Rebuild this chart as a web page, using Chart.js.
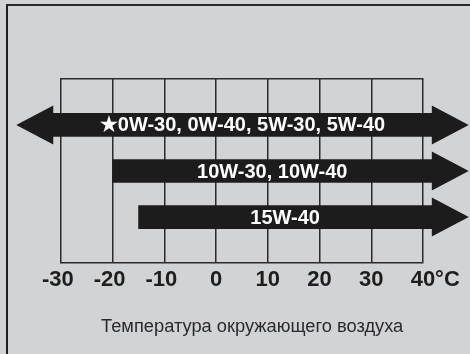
<!DOCTYPE html>
<html>
<head>
<meta charset="utf-8">
<script src="https://cdn.jsdelivr.net/npm/chart.js@4.4.0/dist/chart.umd.min.js"></script>
<style>
  html, body { margin: 0; padding: 0; background: #d2d3d5; }
  #wrap { position: relative; width: 470px; height: 354px; overflow: hidden; }
  #frame { position: absolute; left: 6px; top: 4px; right: -4px; bottom: -4px;
           border-left: 2px solid #1f1f1f; border-top: 2px solid #2a2a2a; }
  #ctx { position: absolute; left: 0; top: 0; }
</style>
</head>
<body>
<div id="wrap">
  <div id="frame"></div>
  <canvas id="ctx" width="470" height="354"></canvas>
</div>
<script>
// Oil grades and the temperature range (°C) each one covers
const grades = ['★0W-30, 0W-40, 5W-30, 5W-40', '10W-30, 10W-40', '15W-40'];
const lowTemp = [-31.5, -20, -15];
const highTemp = [41.7, 41.7, 41.7];
// which ends continue past the scale (drawn as arrow heads)
const openLeft = [true, false, false];
const openRight = [true, true, true];
const tempTicks = [-30, -20, -10, 0, 10, 20, 30, 40];

const ink = '#1c1c1c';
const gridInk = '#2b2b2b';

// arrow heads on the open ends + grade text on the bars
const arrowHeads = {
  id: 'arrowHeads',
  afterDatasetsDraw(chart) {
    const ctx = chart.ctx;
    const meta = chart.getDatasetMeta(0);
    const headLen = 37, headHalf = 19.5;
    ctx.save();
    meta.data.forEach((bar, i) => {
      const p = bar.getProps(['x', 'y', 'base'], true);
      const left = Math.min(p.x, p.base), right = Math.max(p.x, p.base);
      ctx.fillStyle = ink;
      if (openRight[i]) {
        ctx.beginPath();
        ctx.moveTo(right, p.y - headHalf);
        ctx.lineTo(right + headLen, p.y);
        ctx.lineTo(right, p.y + headHalf);
        ctx.closePath();
        ctx.fill();
      }
      if (openLeft[i]) {
        ctx.beginPath();
        ctx.moveTo(left, p.y - headHalf);
        ctx.lineTo(left - headLen, p.y);
        ctx.lineTo(left, p.y + headHalf);
        ctx.closePath();
        ctx.fill();
      }
      ctx.fillStyle = '#ffffff';
      ctx.font = 'bold 20px "Liberation Sans", Arial, sans-serif';
      ctx.textAlign = 'center';
      ctx.textBaseline = 'middle';
      ctx.fillText(grades[i], (left + right) / 2, p.y + 1);
    });
    ctx.restore();
  }
};

new Chart(document.getElementById('ctx'), {
  type: 'bar',
  data: {
    datasets: [{
      data: grades.map((g, i) => ({ x: [lowTemp[i], highTemp[i]], y: i })),
      backgroundColor: ink,
      borderWidth: 0,
      barThickness: 23,
      clip: false
    }]
  },
  options: {
    indexAxis: 'y',
    responsive: false,
    animation: false,
    layout: { padding: { left: 61, right: 47, top: 79, bottom: 0 } },
    plugins: { legend: { display: false }, tooltip: { enabled: false } },
    scales: {
      x: {
        type: 'linear',
        position: 'bottom',
        min: -30,
        max: 40,
        afterBuildTicks: (scale) => { scale.ticks = tempTicks.map(v => ({ value: v })); },
        afterFit: (scale) => { scale.height = 91; },
        grid: { color: gridInk, lineWidth: 1.5, drawTicks: false },
        border: { color: gridInk, width: 1.5 },
        ticks: {
          padding: 4,
          autoSkip: false,
          maxRotation: 0,
          minRotation: 0,
          color: '#1e1e1e',
          font: { family: '"Liberation Sans", Arial, sans-serif', size: 22, weight: 'bold' },
          // digits sit on the line, the minus / unit hang outside
          callback: (v) => v === 40 ? '    40°C' : (v < 0 ? v + ' ' : String(v))
        },
        title: {
          display: true,
          text: '    Температура окружающего воздуха',
          color: '#2a2a2a',
          font: { family: '"Liberation Sans", Arial, sans-serif', size: 18.3 },
          padding: { top: 0, bottom: 16 }
        }
      },
      xTop: {
        type: 'linear',
        position: 'top',
        min: -30,
        max: 40,
        afterFit: (scale) => { scale.height = 0; },
        grid: { drawOnChartArea: false, drawTicks: false, color: gridInk, lineWidth: 1.5 },
        border: { color: gridInk, width: 1.5 },
        ticks: { display: false }
      },
      y: {
        type: 'linear',
        reverse: true,
        min: -0.71,
        max: 2.71,
        display: false
      }
    }
  },
  plugins: [arrowHeads]
});
</script>
</body>
</html>
